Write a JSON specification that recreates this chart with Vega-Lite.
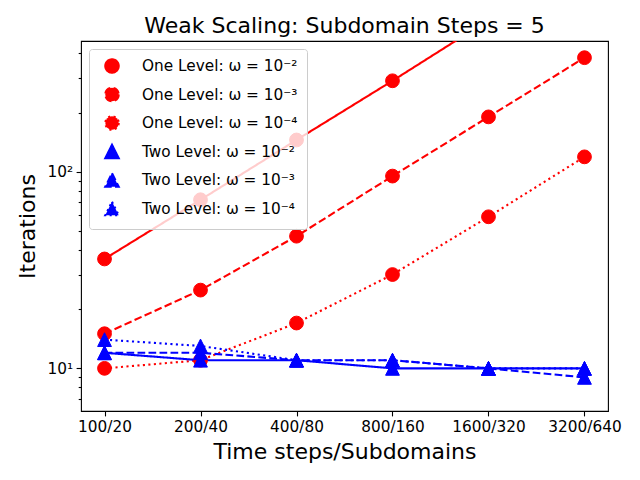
{
  "$schema": "https://vega.github.io/schema/vega-lite/v6.json",
  "width": 527,
  "height": 370,
  "autosize": {"type": "none"},
  "padding": {"left": 81, "top": 41, "right": 32, "bottom": 69},
  "background": "white",
  "config": {
    "font": "DejaVu Sans",
    "view": {"stroke": "black", "strokeWidth": 1.1},
    "axis": {"grid": false, "domain": false, "tickColor": "black", "labelColor": "black", "titleColor": "black", "tickWidth": 1.1, "labelFont": "DejaVu Sans", "titleFont": "DejaVu Sans"}
  },
  "title": {"text": "Weak Scaling: Subdomain Steps = 5", "fontSize": 22, "fontWeight": "normal", "font": "DejaVu Sans", "color": "black", "offset": 3, "anchor": "middle"},
  "data": {"values": [
    {"steps": "100/20", "series": "One Level: ω = 10⁻²", "iterations": 36},
    {"steps": "200/40", "series": "One Level: ω = 10⁻²", "iterations": 72},
    {"steps": "400/80", "series": "One Level: ω = 10⁻²", "iterations": 145},
    {"steps": "800/160", "series": "One Level: ω = 10⁻²", "iterations": 290},
    {"steps": "1600/320", "series": "One Level: ω = 10⁻²", "iterations": 590},
    {"steps": "3200/640", "series": "One Level: ω = 10⁻²", "iterations": 1180},
    {"steps": "100/20", "series": "One Level: ω = 10⁻³", "iterations": 15},
    {"steps": "200/40", "series": "One Level: ω = 10⁻³", "iterations": 25},
    {"steps": "400/80", "series": "One Level: ω = 10⁻³", "iterations": 47},
    {"steps": "800/160", "series": "One Level: ω = 10⁻³", "iterations": 95},
    {"steps": "1600/320", "series": "One Level: ω = 10⁻³", "iterations": 190},
    {"steps": "3200/640", "series": "One Level: ω = 10⁻³", "iterations": 380},
    {"steps": "100/20", "series": "One Level: ω = 10⁻⁴", "iterations": 10},
    {"steps": "200/40", "series": "One Level: ω = 10⁻⁴", "iterations": 11},
    {"steps": "400/80", "series": "One Level: ω = 10⁻⁴", "iterations": 17},
    {"steps": "800/160", "series": "One Level: ω = 10⁻⁴", "iterations": 30},
    {"steps": "1600/320", "series": "One Level: ω = 10⁻⁴", "iterations": 59},
    {"steps": "3200/640", "series": "One Level: ω = 10⁻⁴", "iterations": 119},
    {"steps": "100/20", "series": "Two Level: ω = 10⁻²", "iterations": 12},
    {"steps": "200/40", "series": "Two Level: ω = 10⁻²", "iterations": 11},
    {"steps": "400/80", "series": "Two Level: ω = 10⁻²", "iterations": 11},
    {"steps": "800/160", "series": "Two Level: ω = 10⁻²", "iterations": 10},
    {"steps": "1600/320", "series": "Two Level: ω = 10⁻²", "iterations": 10},
    {"steps": "3200/640", "series": "Two Level: ω = 10⁻²", "iterations": 10},
    {"steps": "100/20", "series": "Two Level: ω = 10⁻³", "iterations": 12},
    {"steps": "200/40", "series": "Two Level: ω = 10⁻³", "iterations": 12},
    {"steps": "400/80", "series": "Two Level: ω = 10⁻³", "iterations": 11},
    {"steps": "800/160", "series": "Two Level: ω = 10⁻³", "iterations": 11},
    {"steps": "1600/320", "series": "Two Level: ω = 10⁻³", "iterations": 10},
    {"steps": "3200/640", "series": "Two Level: ω = 10⁻³", "iterations": 9},
    {"steps": "100/20", "series": "Two Level: ω = 10⁻⁴", "iterations": 14},
    {"steps": "200/40", "series": "Two Level: ω = 10⁻⁴", "iterations": 13},
    {"steps": "400/80", "series": "Two Level: ω = 10⁻⁴", "iterations": 11},
    {"steps": "800/160", "series": "Two Level: ω = 10⁻⁴", "iterations": 11},
    {"steps": "1600/320", "series": "Two Level: ω = 10⁻⁴", "iterations": 10},
    {"steps": "3200/640", "series": "Two Level: ω = 10⁻⁴", "iterations": 10}
  ]},
  "encoding": {
    "x": {
      "field": "steps", "type": "ordinal",
      "sort": ["100/20", "200/40", "400/80", "800/160", "1600/320", "3200/640"],
      "scale": {"type": "point", "padding": 0.245},
      "axis": {"title": "Time steps/Subdomains", "titleFontSize": 22, "titleFontWeight": "normal", "titlePadding": 6, "labelFontSize": 15.3, "labelAngle": 0, "tickSize": 4.9, "labelPadding": 4}
    },
    "y": {
      "field": "iterations", "type": "quantitative",
      "scale": {"type": "log", "domain": [6.07, 462], "nice": false},
      "axis": {
        "title": "Iterations", "titleFontSize": 22, "titleFontWeight": "normal", "titlePadding": 8,
        "values": [7, 8, 9, 10, 20, 30, 40, 50, 60, 70, 80, 90, 100, 200, 300, 400],
        "labelExpr": "datum.value == 10 ? '10¹' : datum.value == 100 ? '10²' : ''",
        "labelOverlap": false, "labelFontSize": 15.3, "labelPadding": 3.5,
        "tickSize": {"condition": {"test": "datum.value == 10 || datum.value == 100", "value": 4.9}, "value": 2.8}
      }
    },
    "color": {
      "field": "series", "type": "nominal",
      "scale": {
        "domain": ["One Level: ω = 10⁻²", "One Level: ω = 10⁻³", "One Level: ω = 10⁻⁴", "Two Level: ω = 10⁻²", "Two Level: ω = 10⁻³", "Two Level: ω = 10⁻⁴"],
        "range": ["#ff0000", "#ff0000", "#ff0000", "#0000ff", "#0000ff", "#0000ff"]
      },
      "legend": {
        "title": null, "orient": "top-left", "offset": 8, "padding": 9,
        "fillColor": "rgba(255,255,255,0.8)", "strokeColor": "#cccccc", "cornerRadius": 3,
        "labelFontSize": 15.3, "labelColor": "black", "labelFont": "DejaVu Sans", "labelLimit": 400,
        "symbolSize": 180, "symbolOffset": 6, "labelOffset": 22, "rowPadding": 6.5, "symbolStrokeWidth": 2.1
      }
    }
  },
  "layer": [
    {
      "mark": {"type": "line", "strokeWidth": 2.1, "clip": true},
      "encoding": {
        "strokeDash": {
          "field": "series", "type": "nominal", "legend": null,
          "scale": {
            "domain": ["One Level: ω = 10⁻²", "One Level: ω = 10⁻³", "One Level: ω = 10⁻⁴", "Two Level: ω = 10⁻²", "Two Level: ω = 10⁻³", "Two Level: ω = 10⁻⁴"],
            "range": [[1, 0], [7.7, 3.3], [2.1, 3.4], [1, 0], [7.7, 3.3], [2.1, 3.4]]
          }
        }
      }
    },
    {
      "mark": {"type": "point", "filled": true, "opacity": 1, "size": 190, "clip": true, "strokeWidth": 1},
      "encoding": {
        "shape": {
          "field": "series", "type": "nominal", "legend": null,
          "scale": {
            "domain": ["One Level: ω = 10⁻²", "One Level: ω = 10⁻³", "One Level: ω = 10⁻⁴", "Two Level: ω = 10⁻²", "Two Level: ω = 10⁻³", "Two Level: ω = 10⁻⁴"],
            "range": ["circle", "circle", "circle", "M0,-1L1,1L-1,1Z", "M0,-1L1,1L-1,1Z", "M0,-1L1,1L-1,1Z"]
          }
        },
        "stroke": {"field": "series", "type": "nominal", "legend": null, "scale": {
          "domain": ["One Level: ω = 10⁻²", "One Level: ω = 10⁻³", "One Level: ω = 10⁻⁴", "Two Level: ω = 10⁻²", "Two Level: ω = 10⁻³", "Two Level: ω = 10⁻⁴"],
          "range": ["#ff0000", "#ff0000", "#ff0000", "#0000ff", "#0000ff", "#0000ff"]}}
      }
    }
  ]
}
